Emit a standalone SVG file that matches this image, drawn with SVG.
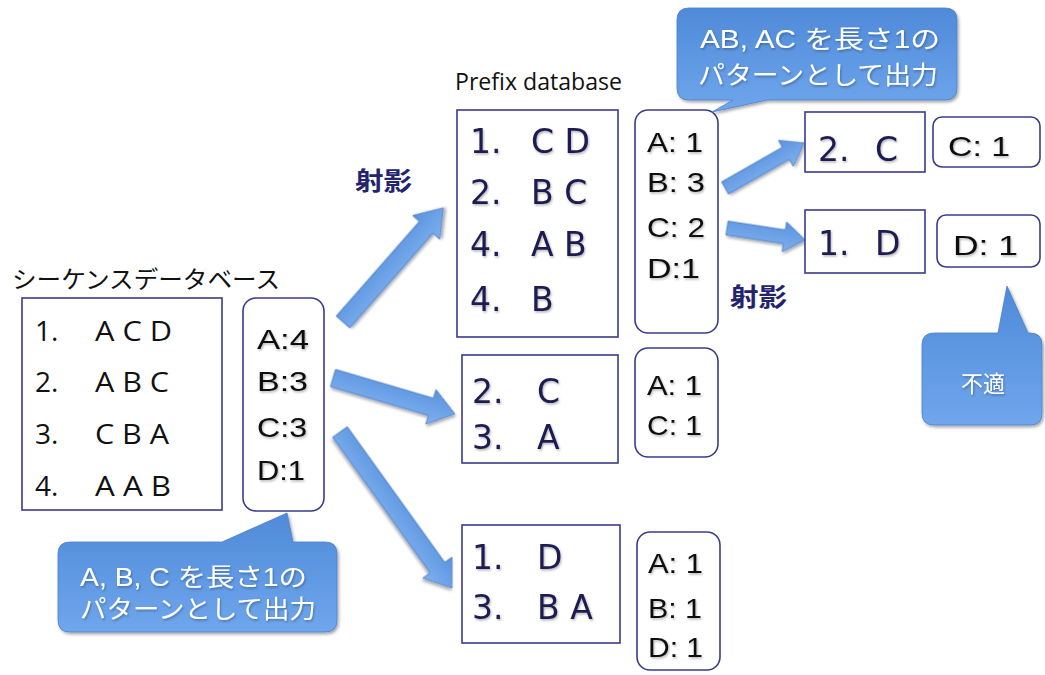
<svg xmlns="http://www.w3.org/2000/svg" width="1045" height="675" viewBox="0 0 1045 675">
<defs>
<linearGradient id="blu" x1="0" y1="0" x2="0" y2="1">
<stop offset="0" stop-color="#5a93dd"/>
<stop offset="1" stop-color="#7eb0ef"/>
</linearGradient>
<linearGradient id="cal" x1="0" y1="0" x2="0" y2="1">
<stop offset="0" stop-color="#4f8ad9"/>
<stop offset="1" stop-color="#6fa6ec"/>
</linearGradient>
<filter id="sh" x="-20%" y="-20%" width="140%" height="140%">
<feDropShadow dx="1.5" dy="2" stdDeviation="1.5" flood-color="#000" flood-opacity="0.35"/>
</filter>
<filter id="tsh" x="-10%" y="-10%" width="120%" height="130%">
<feDropShadow dx="1" dy="1.5" stdDeviation="0.8" flood-color="#000" flood-opacity="0.3"/>
</filter>
</defs>
<style>
.box{fill:#fff;stroke:#3b3b8c;stroke-width:1.6}
.arr{fill:url(#blu);stroke:#4a7cc8;stroke-width:0.8;filter:url(#sh)}
.cal{fill:url(#cal);stroke:#4a80cc;stroke-width:0.8;filter:url(#sh)}
.seq{font-family:"Open Sans","Liberation Sans",sans-serif;font-size:28px;fill:#111}
.pre{font-family:"DejaVu Sans","Liberation Sans",sans-serif;font-size:33px;fill:#1c1c52;filter:url(#tsh)}
.cnt{font-family:"Liberation Sans","Open Sans",sans-serif;font-size:28px;fill:#111;filter:url(#tsh)}
.ttl{font-family:"Open Sans","Noto Sans CJK JP",sans-serif;font-size:23px;fill:#111}
.jp{font-family:"Noto Sans CJK JP",sans-serif;font-size:25px;fill:#23236e;font-weight:bold}
.ct{font-family:"Liberation Sans","Noto Sans CJK JP",sans-serif;font-size:25px;fill:#fff;filter:url(#tsh)}
</style>

<g id="connectors">
<path class="arr" transform="translate(343,322) rotate(-48.7)" d="M0,-9 L126,-9 L126,-18 L152,0 L126,18 L126,9 L0,9 Z"/>
<path class="arr" transform="translate(333,378) rotate(16.4)" d="M0,-9 L102,-9 L102,-18 L127,0 L102,18 L102,9 L0,9 Z"/>
<path class="arr" transform="translate(340,432) rotate(54.3)" d="M0,-9 L167,-9 L167,-18 L192,0 L167,18 L167,9 L0,9 Z"/>
<path class="arr" transform="translate(725,188) rotate(-29.7)" d="M0,-7 L70,-7 L70,-15 L91,0 L70,15 L70,7 L0,7 Z"/>
<path class="arr" transform="translate(727,228) rotate(8.7)" d="M0,-7 L58,-7 L58,-15 L79,0 L58,15 L58,7 L0,7 Z"/>
</g>

<g id="seq-db">
<text class="ttl" x="12" y="288" style="font-size:24px" textLength="268" lengthAdjust="spacingAndGlyphs">シーケンスデータベース</text>
<rect class="box" x="22" y="298" width="200" height="212"/>
<text class="seq" x="35" y="341">1.</text><text class="seq" x="95" y="341" textLength="77" lengthAdjust="spacingAndGlyphs">A C D</text>
<text class="seq" x="35" y="392">2.</text><text class="seq" x="95" y="392" textLength="74" lengthAdjust="spacingAndGlyphs">A B C</text>
<text class="seq" x="35" y="444">3.</text><text class="seq" x="95" y="444" textLength="74" lengthAdjust="spacingAndGlyphs">C B A</text>
<text class="seq" x="35" y="496">4.</text><text class="seq" x="95" y="496" textLength="76" lengthAdjust="spacingAndGlyphs">A A B</text>
</g>

<g id="seq-count">
<rect class="box" x="243" y="298" width="81" height="213" rx="13"/>
<text class="cnt" x="257" y="349" textLength="52" lengthAdjust="spacingAndGlyphs">A:4</text>
<text class="cnt" x="257" y="391" textLength="51" lengthAdjust="spacingAndGlyphs">B:3</text>
<text class="cnt" x="257" y="437" textLength="50" lengthAdjust="spacingAndGlyphs">C:3</text>
<text class="cnt" x="257" y="480" textLength="48" lengthAdjust="spacingAndGlyphs">D:1</text>
</g>

<g id="callout-1">
<path class="cal" d="M72,542 L222,542 L287,513 L293,542 L325,542 Q337,542 337,554 L337,620 Q337,632 325,632 L70,632 Q58,632 58,620 L58,554 Q58,542 70,542 Z"/>
<text class="ct" x="80" y="586" textLength="227" lengthAdjust="spacingAndGlyphs">A, B, C を長さ1の</text>
<text class="ct" x="80" y="618" textLength="236" lengthAdjust="spacingAndGlyphs">パターンとして出力</text>
</g>

<g id="label-proj-1">
<text class="jp" x="355" y="190" textLength="57" lengthAdjust="spacingAndGlyphs">射影</text>
</g>

<g id="prefix-a">
<text class="ttl" x="455" y="90" textLength="167" lengthAdjust="spacingAndGlyphs">Prefix database</text>
<rect class="box" x="457" y="110" width="161" height="227"/>
<text class="pre" x="470" y="153">1.</text><text class="pre" x="531" y="153">C D</text>
<text class="pre" x="470" y="204">2.</text><text class="pre" x="531" y="204">B C</text>
<text class="pre" x="470" y="256">4.</text><text class="pre" x="531" y="256">A B</text>
<text class="pre" x="470" y="311">4.</text><text class="pre" x="531" y="311">B</text>
</g>
<g id="count-a">
<rect class="box" x="635" y="110" width="83" height="223" rx="13"/>
<text class="cnt" x="647" y="152" textLength="56" lengthAdjust="spacingAndGlyphs">A: 1</text>
<text class="cnt" x="647" y="192" textLength="58" lengthAdjust="spacingAndGlyphs">B: 3</text>
<text class="cnt" x="647" y="237" textLength="58" lengthAdjust="spacingAndGlyphs">C: 2</text>
<text class="cnt" x="647" y="278" textLength="53" lengthAdjust="spacingAndGlyphs">D:1</text>
</g>

<g id="prefix-b">
<rect class="box" x="462" y="355" width="156" height="108"/>
<text class="pre" x="472" y="403">2.</text><text class="pre" x="537" y="403">C</text>
<text class="pre" x="472" y="449">3.</text><text class="pre" x="537" y="449">A</text>
</g>
<g id="count-b">
<rect class="box" x="635" y="348" width="83" height="109" rx="13"/>
<text class="cnt" x="647" y="395" textLength="55" lengthAdjust="spacingAndGlyphs">A: 1</text>
<text class="cnt" x="647" y="435" textLength="55" lengthAdjust="spacingAndGlyphs">C: 1</text>
</g>

<g id="prefix-c">
<rect class="box" x="462" y="525" width="158" height="118"/>
<text class="pre" x="472" y="569">1.</text><text class="pre" x="537" y="569">D</text>
<text class="pre" x="472" y="619">3.</text><text class="pre" x="537" y="619">B A</text>
</g>
<g id="count-c">
<rect class="box" x="637" y="532" width="83" height="138" rx="13"/>
<text class="cnt" x="648" y="573" textLength="55" lengthAdjust="spacingAndGlyphs">A: 1</text>
<text class="cnt" x="648" y="618" textLength="54" lengthAdjust="spacingAndGlyphs">B: 1</text>
<text class="cnt" x="648" y="657" textLength="55" lengthAdjust="spacingAndGlyphs">D: 1</text>
</g>

<g id="callout-2">
<path class="cal" d="M689,8 L945,8 Q957,8 957,20 L957,88 Q957,100 945,100 L767,100 L712,112 L733,100 L689,100 Q677,100 677,88 L677,20 Q677,8 689,8 Z"/>
<text class="ct" x="700" y="48" textLength="240" lengthAdjust="spacingAndGlyphs">AB, AC を長さ1の</text>
<text class="ct" x="698" y="84" textLength="240" lengthAdjust="spacingAndGlyphs">パターンとして出力</text>
</g>

<g id="ab-c">
<rect class="box" x="805" y="112" width="120" height="60"/>
<text class="pre" x="818" y="161">2.</text><text class="pre" x="875" y="161">C</text>
</g>
<g id="count-ab">
<rect class="box" x="933" y="117" width="107" height="50" rx="9"/>
<text class="cnt" x="948" y="156" textLength="62" lengthAdjust="spacingAndGlyphs">C: 1</text>
</g>

<g id="ac-d">
<rect class="box" x="805" y="210" width="120" height="63"/>
<text class="pre" x="818" y="255">1.</text><text class="pre" x="875" y="255">D</text>
</g>
<g id="count-ac">
<rect class="box" x="937" y="215" width="103" height="52" rx="9"/>
<text class="cnt" x="953" y="255" textLength="65" lengthAdjust="spacingAndGlyphs">D: 1</text>
</g>

<g id="label-proj-2">
<text class="jp" x="730" y="306" textLength="57" lengthAdjust="spacingAndGlyphs">射影</text>
</g>

<g id="callout-3">
<path class="cal" d="M934,333 L998,333 L1007,286 L1028,333 L1030,333 Q1042,333 1042,345 L1042,413 Q1042,425 1030,425 L934,425 Q922,425 922,413 L922,345 Q922,333 934,333 Z"/>
<text class="ct" x="961" y="392" style="font-family:'Noto Sans CJK JP',sans-serif;font-size:23px" textLength="44" lengthAdjust="spacingAndGlyphs">不適</text>
</g>
</svg>
